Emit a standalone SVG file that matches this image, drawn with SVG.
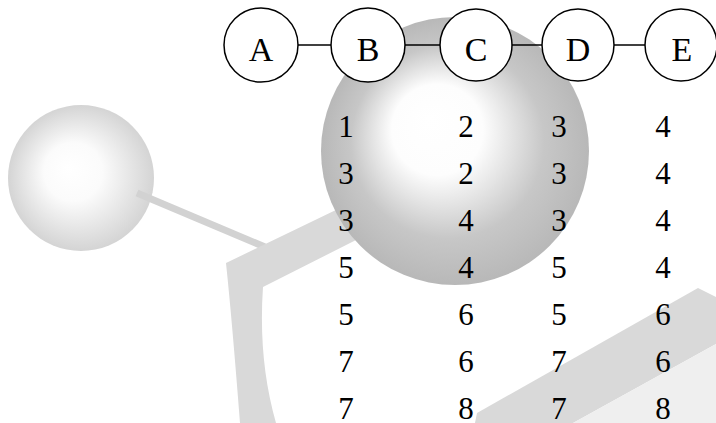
<svg xmlns="http://www.w3.org/2000/svg" width="716" height="423" viewBox="0 0 716 423">
  <defs>
    <radialGradient id="smallBall" cx="0.5" cy="0.5" r="0.5" fx="0.41" fy="0.43">
      <stop offset="0" stop-color="#ffffff"/>
      <stop offset="0.4" stop-color="#fbfbfb"/>
      <stop offset="1" stop-color="#d4d4d4"/>
    </radialGradient>
    <radialGradient id="bigBall" cx="0.5" cy="0.5" r="0.5" fx="0.4" fy="0.38">
      <stop offset="0" stop-color="#ffffff"/>
      <stop offset="0.34" stop-color="#fdfdfd"/>
      <stop offset="0.72" stop-color="#c7c7c7"/>
      <stop offset="1" stop-color="#b8b8b8"/>
    </radialGradient>
    <style>
      .node circle { fill: #ffffff; stroke: #000000; stroke-width: 1.5; }
      .node text, .cell { font-family: "Liberation Serif", "Times New Roman", serif; fill: #000000; text-anchor: middle; }
      .node text { font-size: 34px; }
      .cell { font-size: 31px; }
      .edge { stroke: #000000; stroke-width: 1.5; }
    </style>
  </defs>

  <!-- background artwork -->
  <g id="backdrop">
    <circle cx="81" cy="178" r="73" fill="url(#smallBall)"/>
    <line x1="137" y1="193" x2="265" y2="247" stroke="#d2d2d2" stroke-width="7"/>
    <path d="M226,263 L340,208 L360,238 L263,287 Q258,360 276,423 L240,423 Q232,320 226,263 Z" fill="#d9d9d9"/>
    <polygon points="475,423 477,413 698,288 716,297 716,344 573,423" fill="#d9d9d9"/>
    <polygon points="573,423 716,344 716,423" fill="#efefef"/>
    <circle cx="455" cy="151" r="134" fill="url(#bigBall)"/>
  </g>

  <!-- connectors -->
  <g id="edges">
    <line class="edge" x1="298" y1="45" x2="331" y2="45"/>
    <line class="edge" x1="404" y1="45" x2="440" y2="45"/>
    <line class="edge" x1="512" y1="45" x2="542" y2="45"/>
    <line class="edge" x1="614" y1="45" x2="645" y2="45"/>
  </g>

  <!-- nodes -->
  <g id="nodeA" class="node"><circle cx="261" cy="45" r="37"/><text x="261" y="61">A</text></g>
  <g id="nodeB" class="node"><circle cx="368" cy="45" r="37"/><text x="368" y="61">B</text></g>
  <g id="nodeC" class="node"><circle cx="476" cy="45" r="36"/><text x="476" y="61">C</text></g>
  <g id="nodeD" class="node"><circle cx="578" cy="45" r="36"/><text x="578" y="61">D</text></g>
  <g id="nodeE" class="node"><circle cx="681" cy="45" r="36"/><text x="682" y="61">E</text></g>

  <!-- value table -->
  <g id="table">
    <text class="cell" x="346" y="137">1</text><text class="cell" x="466" y="137">2</text><text class="cell" x="559" y="137">3</text><text class="cell" x="663" y="137">4</text>
    <text class="cell" x="346" y="184">3</text><text class="cell" x="466" y="184">2</text><text class="cell" x="559" y="184">3</text><text class="cell" x="663" y="184">4</text>
    <text class="cell" x="346" y="231">3</text><text class="cell" x="466" y="231">4</text><text class="cell" x="559" y="231">3</text><text class="cell" x="663" y="231">4</text>
    <text class="cell" x="346" y="278">5</text><text class="cell" x="466" y="278">4</text><text class="cell" x="559" y="278">5</text><text class="cell" x="663" y="278">4</text>
    <text class="cell" x="346" y="325">5</text><text class="cell" x="466" y="325">6</text><text class="cell" x="559" y="325">5</text><text class="cell" x="663" y="325">6</text>
    <text class="cell" x="346" y="372">7</text><text class="cell" x="466" y="372">6</text><text class="cell" x="559" y="372">7</text><text class="cell" x="663" y="372">6</text>
    <text class="cell" x="346" y="419">7</text><text class="cell" x="466" y="419">8</text><text class="cell" x="559" y="419">7</text><text class="cell" x="663" y="419">8</text>
  </g>
</svg>
